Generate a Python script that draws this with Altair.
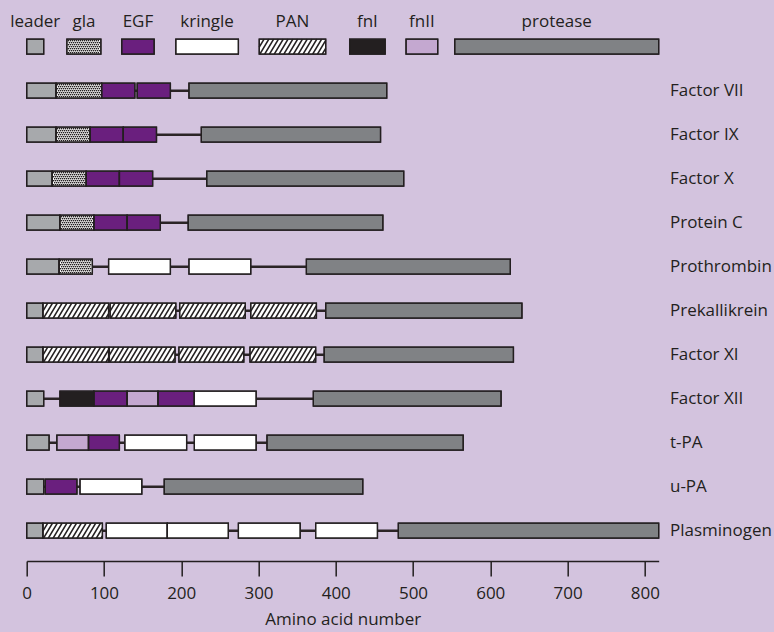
import altair as alt
import pandas as pd
import numpy as np

# ---------------- data (amino-acid positions) ----------------
proteins = ["Factor VII", "Factor IX", "Factor X", "Protein C", "Prothrombin",
            "Prekallikrein", "Factor XI", "Factor XII", "t-PA", "u-PA", "Plasminogen"]

legend_domains = ["leader", "gla", "EGF", "kringle", "PAN", "fnI", "fnII", "protease"]
legend_labels = ["leader", "gla", "EGF", "kringle", "PAN", "fnI", "fnII", "protease"]
legend_starts = [0, 52, 123, 193, 301, 418, 491, 554]
legend_ends = [22, 96, 165, 274, 387, 464, 532, 818]

factor_vii = [("leader", 0, 38), ("gla", 38, 97), ("EGF", 97, 140), ("EGF", 143, 186), ("protease", 210, 466)]
factor_ix = [("leader", 0, 38), ("gla", 38, 82), ("EGF", 82, 125), ("EGF", 125, 168), ("protease", 226, 458)]
factor_x = [("leader", 0, 33), ("gla", 33, 77), ("EGF", 77, 120), ("EGF", 120, 163), ("protease", 233, 488)]
protein_c = [("leader", 0, 43), ("gla", 43, 87), ("EGF", 87, 130), ("EGF", 130, 173), ("protease", 209, 461)]
prothrombin = [("leader", 0, 42), ("gla", 42, 85), ("kringle", 106, 186), ("kringle", 210, 290), ("protease", 362, 626)]
prekallikrein = [("leader", 0, 21), ("PAN", 21, 106), ("PAN", 108, 193), ("PAN", 198, 283), ("PAN", 290, 375), ("protease", 387, 641)]
factor_xi = [("leader", 0, 21), ("PAN", 21, 106), ("PAN", 107, 192), ("PAN", 197, 281), ("PAN", 289, 374), ("protease", 385, 630)]
factor_xii = [("leader", 0, 22), ("fnI", 43, 87), ("EGF", 87, 130), ("fnII", 130, 170), ("EGF", 170, 217), ("kringle", 217, 297), ("protease", 371, 614)]
t_pa = [("leader", 0, 29), ("fnII", 39, 80), ("EGF", 80, 120), ("kringle", 127, 207), ("kringle", 217, 297), ("protease", 311, 565)]
u_pa = [("leader", 0, 22), ("EGF", 24, 65), ("kringle", 69, 149), ("protease", 178, 435)]
plasminogen = [("leader", 0, 21), ("PAN", 21, 98), ("kringle", 103, 182), ("kringle", 182, 261), ("kringle", 274, 354), ("kringle", 374, 454), ("protease", 481, 818)]

protein_domains = [factor_vii, factor_ix, factor_x, protein_c, prothrombin,
                   prekallikrein, factor_xi, factor_xii, t_pa, u_pa, plasminogen]

x_ticks = [0, 100, 200, 300, 400, 500, 600, 700, 800]

# ---------------- layout constants ----------------
X_MAX = 818
W = 632
H = 553
Y0, Y1 = -0.8795, 11.689
PX_X = W / X_MAX            # pixels per amino acid
PX_Y = H / (Y1 - Y0)        # pixels per row
HALF = 7.5 / PX_Y           # half bar height in row units

INK = "#231f20"
BG = "#d3c3de"
fill_colors = {"leader": "#a7a9ac", "gla": "#ffffff", "EGF": "#6a1f7e", "kringle": "#ffffff",
               "PAN": "#ffffff", "fnI": "#231f20", "fnII": "#c4a8d0", "protease": "#808285"}

# ---------------- tables ----------------
rows = []
for d, s, e in zip(legend_domains, legend_starts, legend_ends):
    rows.append({"protein": "legend", "row": 0, "domain": d, "start": s, "end": e})
for i, (p, doms) in enumerate(zip(proteins, protein_domains), start=1):
    for d, s, e in doms:
        rows.append({"protein": p, "row": i, "domain": d, "start": s, "end": e})
boxes = pd.DataFrame(rows)
boxes["y_top"] = boxes["row"] - HALF
boxes["y_bot"] = boxes["row"] + HALF

linkers = pd.DataFrame({
    "row": list(range(1, len(proteins) + 1)),
    "start": [doms[0][1] for doms in protein_domains],
    "end": [doms[-1][2] for doms in protein_domains],
})

labels = pd.DataFrame({"row": list(range(1, len(proteins) + 1)), "name": proteins})
leg_labels = pd.DataFrame({
    "row": [0] * len(legend_labels),
    "name": legend_labels,
    "mid": [(s + e) / 2 for s, e in zip(legend_starts, legend_ends)],
})

# hatch lines for PAN boxes ("/" stripes), clipped to each box
hatch = []
spacing_px, run_px = 4.8, 9.0
for _, b in boxes[boxes["domain"] == "PAN"].iterrows():
    a_px, b_px = b["start"] * PX_X, b["end"] * PX_X
    s = a_px - run_px
    while s < b_px:
        u0 = max(0.0, (a_px - s) / run_px)
        u1 = min(1.0, (b_px - s) / run_px)
        if u1 > u0:
            hatch.append({
                "x": (s + run_px * u0) / PX_X, "x2": (s + run_px * u1) / PX_X,
                "y": b["y_bot"] - 2 * HALF * u0, "y2": b["y_bot"] - 2 * HALF * u1,
            })
        s += spacing_px
hatch = pd.DataFrame(hatch)

# stipple dots for gla boxes
dots = []
for _, b in boxes[boxes["domain"] == "gla"].iterrows():
    a_px, b_px = b["start"] * PX_X, b["end"] * PX_X
    for j, oy in enumerate(np.arange(-6.0, 6.5, 2.0)):
        ox = a_px + 1.5 + (j % 2)
        while ox < b_px - 1:
            dots.append({"x": ox / PX_X, "y": b["row"] + oy / PX_Y})
            ox += 2.0
dots = pd.DataFrame(dots)

# ---------------- chart ----------------
xs = alt.Scale(domain=[0, X_MAX], nice=False, zero=False)
ys = alt.Scale(domain=[Y0, Y1], reverse=True, nice=False, zero=False)

x_axis = alt.Axis(values=x_ticks, tickSize=15, tickWidth=1.5, tickColor=INK,
                  domainColor=INK, domainWidth=1.5, grid=False,
                  labelFont="Open Sans", labelFontSize=17, labelColor=INK, labelPadding=10,
                  labelFlush=False,
                  title="Amino acid number", titleFont="Open Sans", titleFontSize=17,
                  titleFontWeight="normal", titleColor=INK, titlePadding=10)

linker_layer = alt.Chart(linkers).mark_rule(color="#2b2426", strokeWidth=2.6).encode(
    x=alt.X("start:Q", scale=xs, axis=x_axis), x2="end:Q",
    y=alt.Y("row:Q", scale=ys, axis=None),
)

box_layer = alt.Chart(boxes).mark_rect(stroke=INK, strokeWidth=1.3).encode(
    x=alt.X("start:Q", scale=xs), x2="end:Q",
    y=alt.Y("y_top:Q", scale=ys), y2="y_bot:Q",
    fill=alt.Fill("domain:N", scale=alt.Scale(domain=list(fill_colors.keys()),
                                              range=list(fill_colors.values())), legend=None),
)

hatch_layer = alt.Chart(hatch).mark_rule(color=INK, strokeWidth=1.6).encode(
    x=alt.X("x:Q", scale=xs), x2="x2:Q",
    y=alt.Y("y:Q", scale=ys), y2="y2:Q",
)

dot_layer = alt.Chart(dots).mark_square(size=2, color="#231f20", opacity=1).encode(
    x=alt.X("x:Q", scale=xs), y=alt.Y("y:Q", scale=ys),
)

outline_layer = alt.Chart(boxes).mark_rect(stroke=INK, strokeWidth=1.3, fillOpacity=0).encode(
    x=alt.X("start:Q", scale=xs), x2="end:Q",
    y=alt.Y("y_top:Q", scale=ys), y2="y_bot:Q",
)

label_layer = alt.Chart(labels).mark_text(
    align="left", baseline="middle", font="Open Sans", fontSize=17, color=INK
).encode(
    x=alt.value(643.3), y=alt.Y("row:Q", scale=ys), text="name:N",
)

legend_label_layer = alt.Chart(leg_labels).mark_text(
    align="center", baseline="alphabetic", font="Open Sans", fontSize=17, color=INK, dy=-19.4
).encode(
    x=alt.X("mid:Q", scale=xs), y=alt.Y("row:Q", scale=ys), text="name:N",
)

chart = alt.layer(
    linker_layer, box_layer, hatch_layer, dot_layer, outline_layer, label_layer, legend_label_layer
).properties(
    width=W, height=H,
    autosize=alt.AutoSizeParams(type="none"),
    padding={"left": 18.7, "top": 0, "right": 115, "bottom": 66},
    background=BG,
).configure_view(stroke=None)

page_css = ("html, body { background: #d3c3de; overflow: hidden; } "
            "body { margin: 8px 0 0 8px; } "
            ".vega-embed { position: relative; display: inline-block; box-sizing: border-box; } "
            ".vega-embed svg { overflow: visible; }")

chart.save("out.html", embed_options={"renderer": "svg", "actions": False, "defaultStyle": page_css})
